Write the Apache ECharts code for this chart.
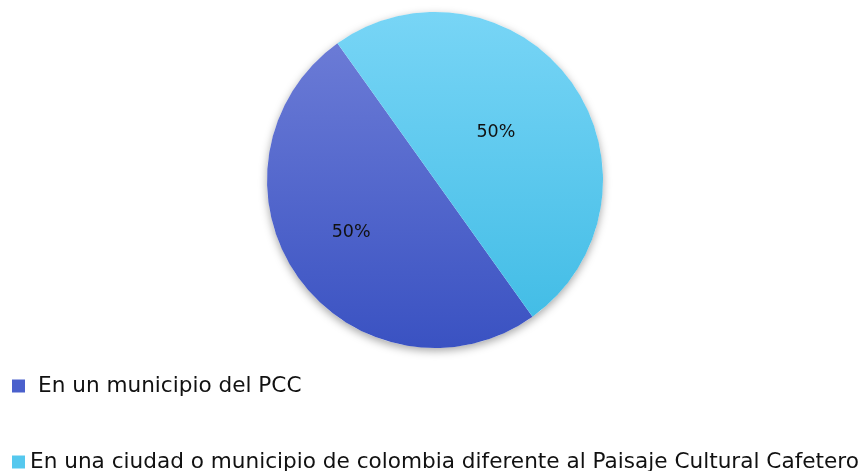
<!DOCTYPE html>
<html>
<head>
<meta charset="utf-8">
<script src="https://cdn.jsdelivr.net/npm/echarts@6/dist/echarts.min.js"></script>
<style>
  html, body { margin: 0; padding: 0; background: #fff; }
  #chart { width: 866px; height: 471px; }
</style>
</head>
<body>
<div id="chart"></div>
<script>
const categories = [
  'En un municipio del PCC',
  'En una ciudad o municipio de colombia diferente al Paisaje Cultural Cafetero',
]
const values = [50, 50]
const colorsTop = ['#6b7bd6', '#78d5f6']
const colorsBottom = ['#3a52c2', '#43bde6']
const legendColors = ['#4a60cc', '#55c8ee']

const chart = echarts.init(document.getElementById('chart'))

const grad = (i) =>
  new echarts.graphic.LinearGradient(0, 0, 0, 1, [
    { offset: 0, color: colorsTop[i] },
    { offset: 1, color: colorsBottom[i] },
  ])

const legendText = {
  fontFamily: 'DejaVu Sans',
  fontSize: 21.6,
  color: '#111',
}

// label nudges so they sit a bit further out than ECharts' default
const labelOffsets = [[-13, 2], [-10, 3]]

const option = {
  animation: false,
  legend: [
    {
      data: [{ name: categories[0], itemStyle: { color: legendColors[0] } }],
      left: 12,
      top: 375,
      icon: 'rect',
      itemWidth: 13,
      itemHeight: 13,
      itemGap: 0,
      textStyle: { ...legendText, padding: [0, 0, 0, 8] },
      padding: 0,
    },
    {
      data: [{ name: categories[1], itemStyle: { color: legendColors[1] } }],
      left: 12,
      top: 451,
      icon: 'rect',
      itemWidth: 13,
      itemHeight: 13,
      itemGap: 0,
      textStyle: { ...legendText, padding: [0, 0, 0, 0] },
      padding: 0,
    },
  ],
  series: [
    {
      // shadow only, under the real pie
      type: 'pie',
      center: [435, 180],
      radius: [0, 168],
      silent: true,
      label: { show: false },
      labelLine: { show: false },
      itemStyle: {
        color: '#fff',
        shadowBlur: 8,
        shadowOffsetY: 3,
        shadowColor: 'rgba(0,0,0,0.35)',
      },
      data: [{ name: '', value: 1 }],
    },
    {
      type: 'pie',
      center: [435, 180],
      radius: [0, 168],
      startAngle: 305.5,
      clockwise: true,
      label: {
        show: true,
        position: 'inside',
        formatter: '{d}%',
        fontFamily: 'DejaVu Sans',
        fontSize: 17.5,
        color: '#111',
      },
      labelLine: { show: false },
      emphasis: { disabled: true },
      data: categories.map((name, i) => ({
        name,
        value: values[i],
        itemStyle: { color: grad(i) },
        label: { offset: labelOffsets[i] },
      })),
    },
  ],
}
chart.setOption(option)
</script>
</body>
</html>
